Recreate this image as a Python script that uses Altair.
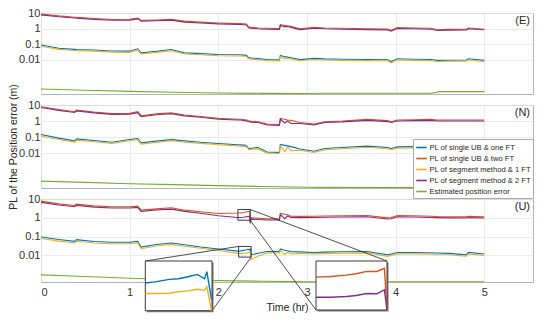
import altair as alt
import pandas as pd

FONT = "Liberation Sans"

# ---------------- data ----------------
T = [0.00, 0.20, 0.38, 0.40, 0.60, 0.80, 1.00, 1.09, 1.13, 1.30, 1.47, 1.62, 1.80, 2.00,
     2.22, 2.25, 2.28, 2.30, 2.32, 2.34, 2.355, 2.36, 2.37, 2.45, 2.55, 2.69, 2.70, 2.75,
     2.78, 2.82, 2.92, 3.08, 3.20, 3.40, 3.68, 3.91, 3.95, 4.02, 4.20, 4.40, 4.47, 4.60,
     4.80, 4.82, 5.00]
TG = [0.0, 0.5, 1.0, 1.5, 2.0, 2.5, 3.0, 3.2, 3.6, 4.0, 4.4, 4.5, 5.0]

E_red = [8.5, 6.5, 5.4, 5.3, 4.4, 3.8, 4.0, 4.8, 3.4, 3.6, 4.0, 3.0, 2.6, 2.3,
         2.1, 2.1, 2.0, 2.0, 1.9, 1.3, 1.25, 1.2, 1.2, 1.1, 1.05, 1.0, 1.8, 1.6,
         1.5, 1.4, 0.98, 1.2, 1.1, 1.05, 0.98, 0.95, 0.78, 1.15, 1.1, 1.05, 0.85, 0.9,
         0.92, 1.1, 0.92]
E_purple = [7.6, 5.8, 4.8, 4.7, 3.9, 3.4, 3.5, 4.2, 3.0, 3.2, 3.5, 2.6, 2.3, 2.0,
            1.85, 1.85, 1.75, 1.75, 1.65, 1.15, 1.1, 1.05, 1.05, 0.97, 0.92, 0.88, 1.6, 1.3,
            1.35, 1.2, 0.86, 1.05, 0.97, 0.92, 0.86, 0.83, 0.68, 1.0, 0.97, 0.92, 0.75, 0.8,
            0.81, 0.97, 0.84]
E_blue = [0.09, 0.055, 0.047, 0.046, 0.043, 0.037, 0.036, 0.051, 0.028, 0.035, 0.046, 0.028, 0.025, 0.022,
          0.021, 0.021, 0.020, 0.020, 0.019, 0.014, 0.0135, 0.013, 0.013, 0.012, 0.0105, 0.0100, 0.019, 0.016,
          0.015, 0.0137, 0.0104, 0.0125, 0.0115, 0.011, 0.0105, 0.0102, 0.0077, 0.0118, 0.011, 0.0105, 0.0093, 0.0095,
          0.0097, 0.0118, 0.0093]
E_yellow = [0.075, 0.047, 0.040, 0.039, 0.036, 0.031, 0.030, 0.043, 0.024, 0.030, 0.039, 0.024, 0.021, 0.0185,
            0.0178, 0.0178, 0.017, 0.017, 0.016, 0.012, 0.0115, 0.011, 0.011, 0.0102, 0.0089, 0.0085, 0.016, 0.012,
            0.0128, 0.0116, 0.0088, 0.0106, 0.0098, 0.0093, 0.0089, 0.0087, 0.0065, 0.010, 0.0093, 0.0089, 0.0079, 0.0081,
            0.0082, 0.010, 0.0079]
E_green = [1.36e-4, 1.13e-4, 9.6e-5, 8.5e-5, 7.6e-5, 7.1e-5, 7.0e-5, 7.3e-5, 7.3e-5, 7.3e-5, 7.3e-5, 9.2e-5, 9.2e-5]

N_red = [7.8, 5.2, 3.8, 4.8, 3.6, 2.9, 3.0, 3.8, 2.1, 2.8, 3.3, 2.35, 1.9, 1.45,
         1.3, 1.3, 1.25, 1.2, 1.15, 1.05, 1.0, 1.0, 0.95, 0.9, 0.64, 0.6, 1.45, 1.3,
         1.15, 1.1, 0.8, 0.64, 0.9, 1.0, 1.26, 1.05, 0.9, 1.15, 1.2, 1.26, 1.15, 1.15,
         1.15, 1.15, 1.15]
N_purple = [6.9, 4.6, 3.4, 4.2, 3.2, 2.6, 2.65, 3.3, 1.85, 2.45, 2.9, 2.1, 1.7, 1.28,
            1.15, 1.15, 1.1, 1.05, 1.0, 0.92, 0.88, 0.88, 0.84, 0.8, 0.56, 0.53, 1.3, 0.75,
            1.0, 0.7, 0.7, 0.56, 0.8, 0.88, 1.1, 0.92, 0.8, 1.0, 1.05, 1.1, 1.0, 1.0,
            1.0, 1.0, 1.0]
N_blue = [0.143, 0.085, 0.057, 0.076, 0.06, 0.047, 0.069, 0.08, 0.043, 0.055, 0.069, 0.057, 0.047, 0.039,
          0.033, 0.032, 0.031, 0.031, 0.028, 0.02, 0.019, 0.019, 0.02, 0.022, 0.0115, 0.011, 0.034, 0.03,
          0.028, 0.025, 0.018, 0.0128, 0.019, 0.022, 0.027, 0.022, 0.019, 0.024, 0.025, 0.027, 0.026, 0.027,
          0.027, 0.027, 0.027]
N_yellow = [0.115, 0.07, 0.048, 0.064, 0.05, 0.04, 0.058, 0.067, 0.036, 0.046, 0.058, 0.048, 0.04, 0.033,
            0.028, 0.027, 0.026, 0.026, 0.024, 0.017, 0.016, 0.016, 0.017, 0.018, 0.0097, 0.0093, 0.029, 0.012,
            0.024, 0.014, 0.015, 0.0108, 0.016, 0.0185, 0.023, 0.0185, 0.016, 0.02, 0.021, 0.023, 0.022, 0.023,
            0.023, 0.023, 0.023]
N_green = [1.74e-4, 1.45e-4, 1.2e-4, 1.05e-4, 9.1e-5, 8.0e-5, 7.2e-5, 7.1e-5, 7.0e-5, 6.9e-5, 6.9e-5, 6.9e-5, 6.8e-5]

U_red = [7.7, 5.5, 4.5, 5.3, 4.3, 3.9, 3.9, 4.2, 2.55, 3.0, 3.4, 2.55, 2.1, 1.7,
         1.8, 1.83, 1.9, 1.97, 2.1, 2.1, 2.28, 0.6, 1.0, 0.95, 0.88, 0.88, 1.7, 1.55,
         1.45, 1.22, 1.2, 1.22, 1.25, 1.28, 1.33, 1.0, 1.05, 1.33, 1.28, 1.22, 1.18, 1.15,
         1.13, 1.2, 1.13]
U_purple = [6.6, 4.8, 3.9, 4.6, 3.7, 3.3, 3.3, 3.6, 2.2, 2.6, 2.9, 2.2, 1.75, 1.3,
            1.05, 1.05, 1.07, 1.1, 1.16, 1.15, 1.28, 0.5, 0.85, 0.82, 0.76, 0.76, 1.5, 0.9,
            1.25, 1.05, 1.03, 1.05, 1.07, 1.1, 1.15, 0.86, 0.9, 1.15, 1.1, 1.05, 1.02, 0.99,
            0.97, 1.03, 0.97]
U_blue = [0.096, 0.07, 0.056, 0.069, 0.055, 0.05, 0.05, 0.056, 0.028, 0.038, 0.046, 0.037, 0.028, 0.022,
          0.017, 0.0175, 0.0187, 0.019, 0.020, 0.0213, 0.019, 0.0229, 0.011, 0.013, 0.0163, 0.016, 0.022, 0.019,
          0.018, 0.016, 0.0155, 0.0145, 0.015, 0.0158, 0.0163, 0.0108, 0.012, 0.0145, 0.0145, 0.014, 0.0135, 0.013,
          0.0108, 0.0145, 0.0119]
U_yellow = [0.08, 0.058, 0.046, 0.057, 0.046, 0.042, 0.042, 0.047, 0.023, 0.032, 0.039, 0.031, 0.024, 0.0185,
            0.0129, 0.0129, 0.013, 0.0135, 0.0138, 0.0144, 0.014, 0.0154, 0.006, 0.0095, 0.0135, 0.0135, 0.019, 0.011,
            0.015, 0.012, 0.013, 0.0122, 0.0126, 0.0133, 0.0137, 0.009, 0.0101, 0.0122, 0.0122, 0.0118, 0.0113, 0.011,
            0.0091, 0.0122, 0.01]
U_green = [9.3e-4, 7.6e-4, 6.2e-4, 5.3e-4, 4.6e-4, 4.3e-4, 4.05e-4, 4.0e-4, 4.0e-4, 4.0e-4, 4.0e-4, 4.0e-4, 4.0e-4]

SERIES = ["PL of single UB & one FT", "PL of single UB & two FT",
          "PL of segment method & 1 FT", "PL of segment method & 2 FT",
          "Estimated position error"]
COLORS = ["#0072BD", "#D95319", "#EDB120", "#7E2F8E", "#77AC30"]
LABELS = ["(E)", "(N)", "(U)"]
XT = [0, 1, 2, 3, 4, 5]
YT = [0.01, 0.1, 1, 10]

# zoom windows (data space) and where the magnified copies are drawn
I1_T = [2.229, 2.371]
I1_V = [0.0082, 0.0303]
I2_T = [2.221, 2.360]
I2_V = [0.744, 2.78]

# ---------------- layout ----------------
W = 492
H = [81, 83, 83]
XMAX = 5.55
YDOM = [[6.5e-5, 10], [6.5e-5, 10], [3.9e-4, 10]]
I1_BOX = [104.3, 171.0, 62.0, 111.7]   # x0, x1, y0(top), y1(bottom) in px of panel 3
I2_BOX = [275.0, 346.0, 62.0, 111.0]

cscale = alt.Scale(domain=SERIES, range=COLORS)
LEG = alt.Legend(title=None, orient="none", legendX=372, legendY=126,
                 symbolType="stroke", symbolSize=110, symbolStrokeWidth=1.6,
                 labelFont=FONT, labelFontSize=7.6, labelColor="#262626",
                 fillColor="white", strokeColor="#aaaaaa", padding=2,
                 rowPadding=0, labelOffset=1.5, labelLimit=300)
color = alt.Color("s:N", scale=cscale, legend=LEG)


def make_df(blue, red, yellow, purple, green):
    rows = []
    for name, vals in zip(SERIES[:4], (blue, red, yellow, purple)):
        rows += [{"t": t, "v": v, "s": name} for t, v in zip(T, vals)]
    rows += [{"t": t, "v": v, "s": SERIES[4]} for t, v in zip(TG, green)]
    return pd.DataFrame(rows)


DFS = [make_df(E_blue, E_red, E_yellow, E_purple, E_green),
       make_df(N_blue, N_red, N_yellow, N_purple, N_green),
       make_df(U_blue, U_red, U_yellow, U_purple, U_green)]


def encodings(i):
    last = i == 2
    x = alt.X("t:Q", scale=alt.Scale(domain=[0, XMAX], nice=False, zero=False),
              axis=alt.Axis(values=XT, labels=last, format="d", grid=True,
                            title="Time (hr)" if last else None,
                            labelPadding=4, titlePadding=5))
    y = alt.Y("v:Q", scale=alt.Scale(type="log", domain=YDOM[i], nice=False),
              axis=alt.Axis(values=YT, format="~g", labelPadding=1, titlePadding=0,
                            title="PL of the Position error (m)" if i == 1 else None))
    return x, y


def main_layers(i):
    df = DFS[i]
    x, y = encodings(i)
    layers = []
    for s in SERIES:
        layers.append(alt.Chart(df).transform_filter(alt.datum.s == s)
                      .mark_line(strokeWidth=1.1).encode(x=x, y=y, color=color))
    layers.append(alt.Chart(pd.DataFrame({"lab": [LABELS[i]]}))
                  .mark_text(align="right", baseline="middle", font=FONT, fontSize=11,
                             color="#262626")
                  .encode(x=alt.value(W - 3), y=alt.value(7.5), text="lab:N"))
    return layers, x, y


def inset(df_sub, tdom, vdom, box):
    xs = alt.Scale(domain=tdom, range=[box[0], box[1]], nice=False, zero=False, clamp=True)
    ys = alt.Scale(type="log", domain=vdom, range=[box[3], box[2]], nice=False, clamp=True)
    xi = alt.X("t:Q", scale=xs, axis=None)
    yi = alt.Y("v:Q", scale=ys, axis=None)
    bdf = pd.DataFrame({"t": [tdom[0]], "t2": [tdom[1]], "v": [vdom[0]], "v2": [vdom[1]]})
    shadow = alt.Chart(bdf).mark_rect(fill="#7a7a7a", xOffset=1.5, x2Offset=1.5,
                                      yOffset=1.5, y2Offset=1.5).encode(
        x=xi, x2="t2:Q", y=yi, y2="v2:Q")
    frame = alt.Chart(bdf).mark_rect(fill="white", stroke="#3a3a3a", strokeWidth=1).encode(
        x=xi, x2="t2:Q", y=yi, y2="v2:Q")
    lines = alt.Chart(df_sub).mark_line(strokeWidth=1.4).encode(x=xi, y=yi, color=color)
    return alt.layer(shadow, frame, lines)


p1_layers, _, _ = main_layers(0)
p2_layers, _, _ = main_layers(1)
p1 = alt.layer(*p1_layers).properties(width=W, height=H[0])
p2 = alt.layer(*p2_layers).properties(width=W, height=H[1])

p3_layers, x3, y3 = main_layers(2)
src_df = pd.DataFrame({"t": [I1_T[0], I2_T[0]], "t2": [I1_T[1], I2_T[1]],
                       "v": [I1_V[0], I2_V[0]], "v2": [I1_V[1], I2_V[1]]})
p3_layers.append(alt.Chart(src_df).mark_rect(fillOpacity=0, stroke="#2e3d4c", strokeWidth=1)
                 .encode(x=x3, x2="t2:Q", y=y3, y2="v2:Q"))
connectors = [
    (I1_T[0], I1_V[1], I1_BOX[0], I1_BOX[2]),
    (I1_T[1], I1_V[0], I1_BOX[1], I1_BOX[3]),
    (I2_T[1], I2_V[1], I2_BOX[1], I2_BOX[2]),
    (I2_T[1], I2_V[0], I2_BOX[0], I2_BOX[3]),
]
for tc, vc, px, py in connectors:
    p3_layers.append(alt.Chart(pd.DataFrame({"t": [tc], "v": [vc]}))
                     .mark_rule(color="#222222", strokeWidth=0.8)
                     .encode(x=x3, y=y3, x2=alt.value(px), y2=alt.value(py)))

dU = DFS[2]
ins1 = inset(dU[dU.s.isin(SERIES[0:1] + SERIES[2:3]) & (dU.t >= 2.22) & (dU.t <= 2.37)],
             I1_T, I1_V, I1_BOX)
ins2 = inset(dU[dU.s.isin(SERIES[1:2] + SERIES[3:4]) & (dU.t >= 2.22) & (dU.t <= 2.36)],
             I2_T, I2_V, I2_BOX)

p3 = alt.layer(alt.layer(*p3_layers), ins1, ins2).resolve_scale(
    x="independent", y="independent").properties(width=W, height=H[2])

chart = alt.vconcat(p1, p2, p3, spacing=11, bounds="flush",
                    padding={"left": 0, "top": -2, "right": 2, "bottom": 2}).configure_view(
    stroke="#b4b4b4", strokeWidth=1
).configure_axis(
    labelFont=FONT, titleFont=FONT, labelFontSize=11, titleFontSize=10.5,
    labelColor="#333333", titleColor="#262626", titleFontWeight="normal",
    gridColor="#e6e6e6", gridWidth=0.8, domain=False, ticks=False
)

chart.save("out.html", embed_options={"renderer": "svg", "actions": False})
